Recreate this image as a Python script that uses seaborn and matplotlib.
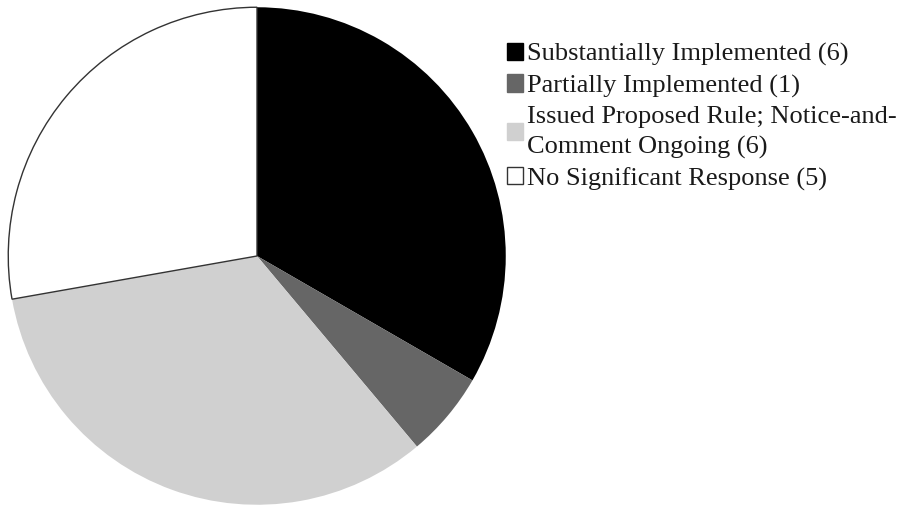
import matplotlib
matplotlib.use("Agg")
import matplotlib.pyplot as plt
from matplotlib.patches import Patch
import seaborn as sns

# Status of recommendations (count per category)
categories = [
    "Substantially Implemented",
    "Partially Implemented",
    "Issued Proposed Rule; Notice-and-\nComment Ongoing",
    "No Significant Response",
]
counts = [6, 1, 6, 5]
colors = ["#000000", "#666666", "#d0d0d0", "#ffffff"]
edge_colors = ["none", "none", "none", "#333333"]

sns.set_theme(style="white")
plt.rcParams["font.family"] = ["Liberation Serif", "DejaVu Serif"]

W, H = 906, 508
fig = plt.figure(figsize=(W / 100, H / 100), dpi=100)

# Pie axes: centre (257, 256) px, radius ~250 px
cx, cy, r = 257, 256, 250
ax = fig.add_axes([(cx - r) / W, (H - cy - r) / H, 2 * r / W, 2 * r / H])
wedges, _ = ax.pie(
    counts,
    colors=colors,
    startangle=90,
    counterclock=False,
    radius=1.0,
    wedgeprops=dict(linewidth=0),
)
for w, ec in zip(wedges, edge_colors):
    if ec != "none":
        w.set_edgecolor(ec)
        w.set_linewidth(1.0)
ax.set_xlim(-1.005, 1.005)
ax.set_ylim(-1.005, 1.005)
ax.set_aspect("equal")
ax.axis("off")

labels = [f"{c} ({n})" for c, n in zip(categories, counts)]
handles = [
    Patch(facecolor=fc, edgecolor=(ec if ec != "none" else fc), linewidth=1.0)
    for fc, ec in zip(colors, edge_colors)
]
leg = fig.legend(
    handles,
    labels,
    loc="upper left",
    bbox_to_anchor=(507 / W, 1 - 43 / H),
    frameon=False,
    fontsize=19,
    handlelength=0.62,
    handleheight=0.62,
    handletextpad=0.15,
    labelspacing=0.31,
    borderpad=0,
    borderaxespad=0,
    labelcolor="#1a1a1a",
)
for t in leg.get_texts():
    t.set_linespacing(1.45)

fig.savefig("out.png", dpi=100, facecolor="white")
